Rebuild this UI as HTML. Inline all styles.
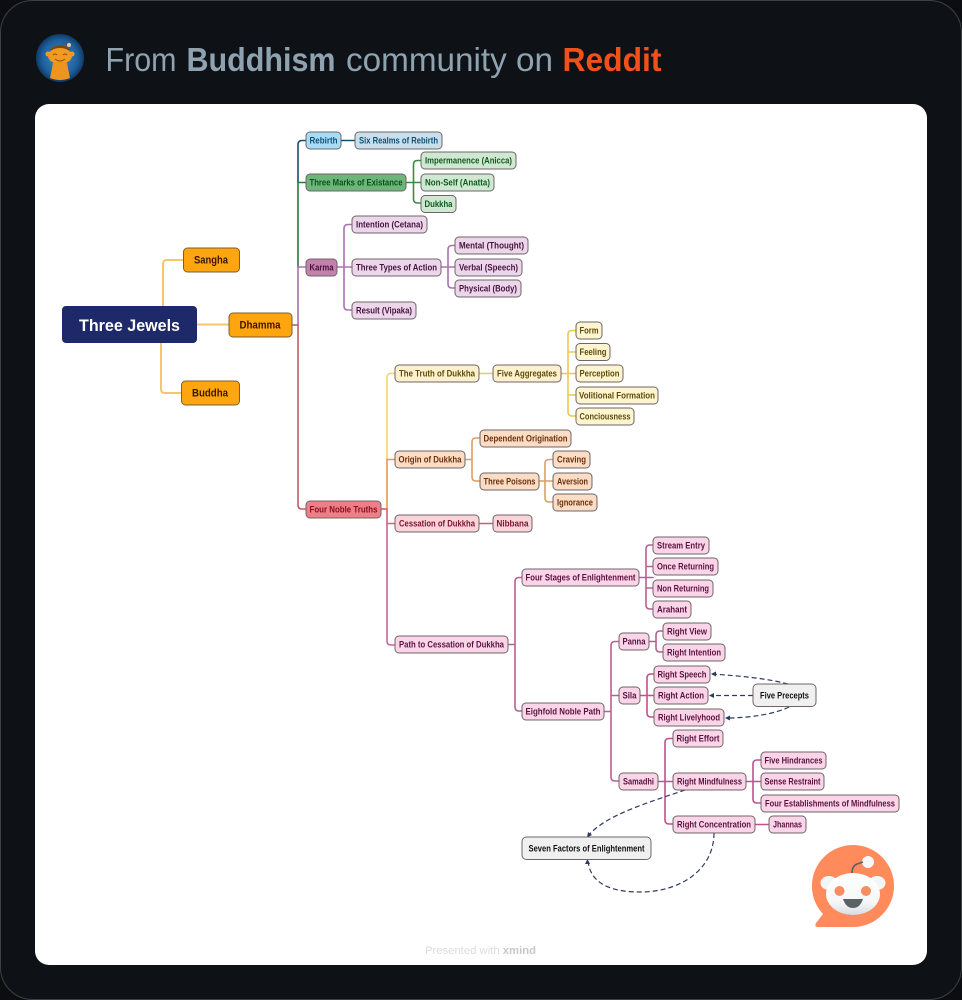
<!DOCTYPE html>
<html><head><meta charset="utf-8"><style>
html,body{margin:0;padding:0;background:#0b0d10;width:962px;height:1000px;overflow:hidden}
svg{display:block}
text{font-family:"Liberation Sans",sans-serif;font-weight:700;font-size:9px;text-anchor:middle}
.l{fill:none;stroke-width:1.6;stroke-linecap:round}
.d{fill:none;stroke:#2f3b5c;stroke-width:1.2;stroke-dasharray:5 3}
rect.n{stroke:#6f6468;stroke-width:1}
</style></head><body>
<svg width="962" height="1000" viewBox="0 0 962 1000" xmlns="http://www.w3.org/2000/svg">
<defs>
<radialGradient id="av" cx="50%" cy="50%" r="50%"><stop offset="0" stop-color="#3f8fcb"/><stop offset=".75" stop-color="#1d5f9c"/><stop offset="1" stop-color="#123a63"/></radialGradient>
<linearGradient id="hd" x1="0" y1="0" x2="0" y2="1"><stop offset="0" stop-color="#fff"/><stop offset=".7" stop-color="#f6f7f8"/><stop offset="1" stop-color="#d7dde2"/></linearGradient>
</defs>
<rect x="0.5" y="0.5" width="961" height="999" rx="32" fill="#0e1216" stroke="#3d4144"/>
<ellipse cx="60" cy="58" rx="24" ry="24" fill="url(#av)"/>
<path d="M49 50 Q60 40 71 50 Z" fill="#7a4a12"/>
<path d="M62 44 Q64 42 68 45" fill="none" stroke="#7a4a12" stroke-width="1.2"/><circle cx="69" cy="45" r="2" fill="#e9c9a0"/>
<ellipse cx="60" cy="56" rx="12" ry="8" fill="#f29a22"/><circle cx="48" cy="54" r="2.5" fill="#f29a22"/><circle cx="72" cy="54" r="2.5" fill="#f29a22"/>
<path d="M53 63 Q60 61 67 63 L70 78 Q60 82 50 78 Z" fill="#ee9420"/>
<path d="M53 55 q2 -2 4 0 M63 55 q2 -2 4 0 M55 59 q5 4 10 0" fill="none" stroke="#8a4f0c" stroke-width="1"/>
<text x="141" y="71" textLength="71" lengthAdjust="spacingAndGlyphs" style="font-size:33px;font-weight:400" fill="#8ea2b0">From</text>
<text x="261" y="71" textLength="149" lengthAdjust="spacingAndGlyphs" style="font-size:33px" fill="#8ea2b0">Buddhism</text>
<text x="449.500" y="71" textLength="207" lengthAdjust="spacingAndGlyphs" style="font-size:33px;font-weight:400" fill="#8ea2b0">community on</text>
<text x="612" y="71" textLength="99" lengthAdjust="spacingAndGlyphs" style="font-size:33px" fill="#f1501b">Reddit</text>
<rect x="35" y="104" width="892" height="861" rx="14" fill="#fff"/>

<!-- connectors -->
<g class="c">
<path class="l" style="stroke-width:2" d="M163 306V264q0-4 4-4H183M161 343V389q0 4 4 4H181M197 324.500H229" stroke="#f6c56c"/>
<path class="l" d="M292 325H298" stroke="#b5566a"/>
<path class="l" d="M306 140.500H302q-4 0-4 4V182" stroke="#15506e"/>
<path class="l" d="M298 182V267M298 182.500H306" stroke="#2c7a38"/>
<path class="l" d="M298 267V325M298 267H306" stroke="#ab70b0"/>
<path class="l" d="M298 325V505q0 4 4 4H306" stroke="#c65a66"/>
<path class="l" d="M341 140.500H355" stroke="#15506e"/>
<path class="l" d="M406 182.500H421M421 160.500H417.500q-4 0-4 4V199q0 4 4 4H421" stroke="#3b8a47"/>
<path class="l" d="M337 267H352M352 224.500H348q-4 0-4 4V306q0 4 4 4H352" stroke="#ab70b0"/>
<path class="l" d="M441 267H455M455 245.500H452q-4 0-4 4V284q0 4 4 4H455" stroke="#ab70b0"/>
<path class="l" d="M381 509H387" stroke="#c65a66"/>
<path class="l" d="M395 373.500H391q-4 0-4 4V459" stroke="#f7d36a"/>
<path class="l" d="M387 459V509M387 459.500H395" stroke="#e3994f"/>
<path class="l" d="M387 509V524M387 523.500H395" stroke="#d9607a"/>
<path class="l" d="M387 524V641q0 4 4 4H395" stroke="#c2689c"/>
<path class="l" d="M479 373.500H493" stroke="#f0cc55"/>
<path class="l" d="M561 373.500H576M576 330.500H572q-4 0-4 4V412q0 4 4 4H576M568 352H576M568 395H576" stroke="#efc84e"/>
<path class="l" d="M465 459.500H472M480 438H476q-4 0-4 4V477q0 4 4 4H480" stroke="#dd9e62"/>
<path class="l" d="M539 481H553M553 459.500H549q-4 0-4 4V498q0 4 4 4H553" stroke="#dd9e62"/>
<path class="l" d="M479 523.500H493" stroke="#cf5a78"/>
<path class="l" d="M508 644.500H515M522 577.500H519q-4 0-4 4V707q0 4 4 4H522" stroke="#b5608f"/>
<path class="l" d="M639 577.500H653M653 545H650q-4 0-4 4V605q0 4 4 4H653M646 566.500H653M646 588H653" stroke="#b5608f"/>
<path class="l" d="M604 711.500H611M619 641.500H615q-4 0-4 4V777q0 4 4 4H619M611 695.500H619" stroke="#b5608f"/>
<path class="l" d="M649 641.500H656M663 631H660q-4 0-4 4V648q0 4 4 4H663" stroke="#b5608f"/>
<path class="l" d="M640 695.500H654M654 674H651q-4 0-4 4V713q0 4 4 4H654" stroke="#c2508f"/>
<path class="l" d="M658 781.500H673M673 738.500H669q-4 0-4 4V820q0 4 4 4H673" stroke="#c2508f"/>
<path class="l" d="M746 781.500H761M761 760H757q-4 0-4 4V799q0 4 4 4H761" stroke="#c2508f"/>
<path class="l" d="M755 824.500H769" stroke="#c2508f"/>
</g>
<path class="d" d="M788 684C765 678 740 676 712 674"/><path d="M711 674l5-2.500v5z" fill="#2f3b5c"/>
<path class="d" d="M753 695.500H710"/><path d="M709 695.500l5-2.500v5z" fill="#2f3b5c"/>
<path class="d" d="M789 707C775 714 750 718 726 718"/><path d="M725 718l5-2.500v5z" fill="#2f3b5c"/>
<path class="d" d="M685 790C650 802 605 815 588 836"/><path d="M587 837.500l1-5.500 4 3z" fill="#2f3b5c"/>
<path class="d" d="M714 833C714 870 680 892 640 892C605 892 590 880 588 861"/><path d="M587.500 859l-2.500 5 5 0z" fill="#2f3b5c"/>

<!-- main -->
<rect class="n" x="183.500" y="248" width="56" height="24" rx="4" fill="#ffa50f" style="stroke:#7a6030"/>
<rect class="n" x="229" y="313" width="63" height="24" rx="4" fill="#ffa50f" style="stroke:#7a6030"/>
<rect class="n" x="181.500" y="381" width="58" height="24" rx="4" fill="#ffa50f" style="stroke:#7a6030"/>
<rect x="62" y="306" width="135" height="37" rx="4" fill="#1d2968"/>
<text x="129.500" y="331" textLength="101" lengthAdjust="spacingAndGlyphs" style="font-size:16.500px" fill="#fff">Three Jewels</text>
<g fill="#3a1400">
<text x="211" y="263.500" textLength="34" lengthAdjust="spacingAndGlyphs" style="font-size:11px">Sangha</text>
<text x="260" y="328.500" textLength="41" lengthAdjust="spacingAndGlyphs" style="font-size:11px">Dhamma</text>
<text x="210" y="396.500" textLength="36" lengthAdjust="spacingAndGlyphs" style="font-size:11px">Buddha</text>
</g>

<!-- blue -->
<rect class="n" x="306" y="132" width="35" height="17" rx="4" fill="#a6dcf8"/>
<rect class="n" x="355" y="132" width="87" height="17" rx="4" fill="#c9dfec"/>
<g fill="#124e74">
<text x="323.500" y="143.500" textLength="28" lengthAdjust="spacingAndGlyphs">Rebirth</text>
<text x="398.500" y="143.500" textLength="79" lengthAdjust="spacingAndGlyphs">Six Realms of Rebirth</text>
</g>
<!-- green -->
<rect class="n" x="306" y="174" width="100" height="17" rx="4" fill="#6db679"/>
<rect class="n" x="421" y="152" width="95" height="17" rx="4" fill="#cfe8d1"/>
<rect class="n" x="421" y="174" width="73" height="17" rx="4" fill="#cfe8d1"/>
<rect class="n" x="421" y="195.500" width="35" height="17" rx="4" fill="#cfe8d1"/>
<g fill="#115a20">
<text x="356" y="185.500" textLength="93" lengthAdjust="spacingAndGlyphs" fill="#0c4f1a">Three Marks of Existance</text>
<text x="468.500" y="163.500" textLength="87" lengthAdjust="spacingAndGlyphs">Impermanence (Anicca)</text>
<text x="457.500" y="185.500" textLength="65" lengthAdjust="spacingAndGlyphs">Non-Self (Anatta)</text>
<text x="438.500" y="207" textLength="28" lengthAdjust="spacingAndGlyphs">Dukkha</text>
</g>
<!-- purple -->
<rect class="n" x="306" y="259" width="31" height="17" rx="4" fill="#c481ab"/>
<rect class="n" x="352" y="216" width="75" height="17" rx="4" fill="#ecd7ea"/>
<rect class="n" x="352" y="259" width="89" height="17" rx="4" fill="#ecd7ea"/>
<rect class="n" x="352" y="302" width="64" height="17" rx="4" fill="#ecd7ea"/>
<rect class="n" x="455" y="237" width="73" height="17" rx="4" fill="#ecd7ea"/>
<rect class="n" x="455" y="259" width="67" height="17" rx="4" fill="#ecd7ea"/>
<rect class="n" x="455" y="280" width="66" height="17" rx="4" fill="#ecd7ea"/>
<g fill="#45133f">
<text x="321.500" y="270.500" textLength="24" lengthAdjust="spacingAndGlyphs">Karma</text>
<text x="389.500" y="227.500" textLength="67" lengthAdjust="spacingAndGlyphs">Intention (Cetana)</text>
<text x="396.500" y="270.500" textLength="81" lengthAdjust="spacingAndGlyphs">Three Types of Action</text>
<text x="384" y="313.500" textLength="56" lengthAdjust="spacingAndGlyphs">Result (Vipaka)</text>
<text x="491.500" y="248.500" textLength="65" lengthAdjust="spacingAndGlyphs">Mental (Thought)</text>
<text x="488.500" y="270.500" textLength="59" lengthAdjust="spacingAndGlyphs">Verbal (Speech)</text>
<text x="488" y="291.500" textLength="58" lengthAdjust="spacingAndGlyphs">Physical (Body)</text>
</g>
<!-- red -->
<rect class="n" x="306" y="501" width="75" height="17" rx="4" fill="#ef7f86"/>
<text x="343.500" y="512.500" textLength="68" lengthAdjust="spacingAndGlyphs" fill="#8a0f20">Four Noble Truths</text>
<!-- yellow -->
<rect class="n" x="395" y="365" width="84" height="17" rx="4" fill="#fdf0cd"/>
<rect class="n" x="493" y="365" width="68" height="17" rx="4" fill="#fdf0cd"/>
<rect class="n" x="576" y="322" width="26" height="17" rx="4" fill="#fdf5d0"/>
<rect class="n" x="576" y="343.500" width="34" height="17" rx="4" fill="#fdf5d0"/>
<rect class="n" x="576" y="365" width="47" height="17" rx="4" fill="#fdf5d0"/>
<rect class="n" x="576" y="387" width="82" height="17" rx="4" fill="#fdf5d0"/>
<rect class="n" x="576" y="408" width="58" height="17" rx="4" fill="#fdf5d0"/>
<g fill="#5f4b0c">
<text x="437" y="376.500" textLength="76" lengthAdjust="spacingAndGlyphs">The Truth of Dukkha</text>
<text x="527" y="376.500" textLength="60" lengthAdjust="spacingAndGlyphs">Five Aggregates</text>
<text x="589" y="333.500" textLength="19" lengthAdjust="spacingAndGlyphs">Form</text>
<text x="593" y="355" textLength="27" lengthAdjust="spacingAndGlyphs">Feeling</text>
<text x="599.500" y="376.500" textLength="40" lengthAdjust="spacingAndGlyphs">Perception</text>
<text x="617" y="398.500" textLength="76" lengthAdjust="spacingAndGlyphs">Volitional Formation</text>
<text x="605" y="419.500" textLength="51" lengthAdjust="spacingAndGlyphs">Conciousness</text>
</g>
<!-- orange -->
<rect class="n" x="395" y="451" width="70" height="17" rx="4" fill="#fbdcc4"/>
<rect class="n" x="480" y="430" width="91" height="17" rx="4" fill="#fbdcc4"/>
<rect class="n" x="480" y="473" width="59" height="17" rx="4" fill="#fbdcc4"/>
<rect class="n" x="553" y="451" width="37" height="17" rx="4" fill="#fbdcc4"/>
<rect class="n" x="553" y="473" width="39" height="17" rx="4" fill="#fbdcc4"/>
<rect class="n" x="553" y="494" width="44" height="17" rx="4" fill="#fbdcc4"/>
<g fill="#6a300c">
<text x="430" y="462.500" textLength="63" lengthAdjust="spacingAndGlyphs">Origin of Dukkha</text>
<text x="525.500" y="441.500" textLength="84" lengthAdjust="spacingAndGlyphs">Dependent Origination</text>
<text x="509.500" y="484.500" textLength="52" lengthAdjust="spacingAndGlyphs">Three Poisons</text>
<text x="571.500" y="462.500" textLength="29" lengthAdjust="spacingAndGlyphs">Craving</text>
<text x="572.500" y="484.500" textLength="31" lengthAdjust="spacingAndGlyphs">Aversion</text>
<text x="575" y="505.500" textLength="36" lengthAdjust="spacingAndGlyphs">Ignorance</text>
</g>
<!-- crimson -->
<rect class="n" x="395" y="515" width="84" height="17" rx="4" fill="#fbd4da"/>
<rect class="n" x="493" y="515" width="39" height="17" rx="4" fill="#fbd4da"/>
<g fill="#7a1230">
<text x="437" y="526.500" textLength="76" lengthAdjust="spacingAndGlyphs">Cessation of Dukkha</text>
<text x="512.500" y="526.500" textLength="32" lengthAdjust="spacingAndGlyphs">Nibbana</text>
</g>
<!-- pink -->
<g fill="#f9d5e7">
<rect class="n" x="395" y="636" width="113" height="17" rx="4"/>
<rect class="n" x="522" y="569" width="117" height="17" rx="4"/>
<rect class="n" x="522" y="703" width="82" height="17" rx="4"/>
<rect class="n" x="653" y="537" width="56" height="17" rx="4"/>
<rect class="n" x="653" y="558" width="65" height="17" rx="4"/>
<rect class="n" x="653" y="580" width="60" height="17" rx="4"/>
<rect class="n" x="653" y="601" width="38" height="17" rx="4"/>
<rect class="n" x="619" y="633" width="30" height="17" rx="4"/>
<rect class="n" x="663" y="623" width="48" height="17" rx="4"/>
<rect class="n" x="663" y="644" width="62" height="17" rx="4"/>
<rect class="n" x="619" y="687" width="21" height="17" rx="4"/>
<rect class="n" x="654" y="666" width="56" height="17" rx="4"/>
<rect class="n" x="654" y="687" width="54" height="17" rx="4"/>
<rect class="n" x="654" y="709" width="70" height="17" rx="4"/>
<rect class="n" x="619" y="773" width="39" height="17" rx="4"/>
<rect class="n" x="673" y="730" width="50" height="17" rx="4"/>
<rect class="n" x="673" y="773" width="73" height="17" rx="4"/>
<rect class="n" x="673" y="816" width="82" height="17" rx="4"/>
<rect class="n" x="761" y="752" width="65" height="17" rx="4"/>
<rect class="n" x="761" y="773" width="63" height="17" rx="4"/>
<rect class="n" x="761" y="795" width="138" height="17" rx="4"/>
<rect class="n" x="769" y="816" width="37" height="17" rx="4"/>
</g>
<g fill="#5c1040">
<text x="451.500" y="647.500" textLength="105" lengthAdjust="spacingAndGlyphs">Path to Cessation of Dukkha</text>
<text x="580.500" y="580.500" textLength="110" lengthAdjust="spacingAndGlyphs">Four Stages of Enlightenment</text>
<text x="563" y="714.500" textLength="75" lengthAdjust="spacingAndGlyphs">Eighfold Noble Path</text>
<text x="681" y="548.500" textLength="48" lengthAdjust="spacingAndGlyphs">Stream Entry</text>
<text x="685.500" y="569.500" textLength="57" lengthAdjust="spacingAndGlyphs">Once Returning</text>
<text x="683" y="591.500" textLength="52" lengthAdjust="spacingAndGlyphs">Non Returning</text>
<text x="672" y="612.500" textLength="30" lengthAdjust="spacingAndGlyphs">Arahant</text>
<text x="634" y="644.500" textLength="23" lengthAdjust="spacingAndGlyphs">Panna</text>
<text x="687" y="634.500" textLength="40" lengthAdjust="spacingAndGlyphs">Right View</text>
<text x="694" y="655.500" textLength="54" lengthAdjust="spacingAndGlyphs">Right Intention</text>
<text x="629.500" y="698.500" textLength="14" lengthAdjust="spacingAndGlyphs">Sila</text>
<text x="682" y="677.500" textLength="49" lengthAdjust="spacingAndGlyphs">Right Speech</text>
<text x="681" y="698.500" textLength="46" lengthAdjust="spacingAndGlyphs">Right Action</text>
<text x="689" y="720.500" textLength="62" lengthAdjust="spacingAndGlyphs">Right Livelyhood</text>
<text x="638.500" y="784.500" textLength="31" lengthAdjust="spacingAndGlyphs">Samadhi</text>
<text x="698" y="741.500" textLength="43" lengthAdjust="spacingAndGlyphs">Right Effort</text>
<text x="709.500" y="784.500" textLength="65" lengthAdjust="spacingAndGlyphs">Right Mindfulness</text>
<text x="714" y="827.500" textLength="74" lengthAdjust="spacingAndGlyphs">Right Concentration</text>
<text x="793.500" y="763.500" textLength="58" lengthAdjust="spacingAndGlyphs">Five Hindrances</text>
<text x="792.500" y="784.500" textLength="56" lengthAdjust="spacingAndGlyphs">Sense Restraint</text>
<text x="830" y="806.500" textLength="130" lengthAdjust="spacingAndGlyphs">Four Establishments of Mindfulness</text>
<text x="787.500" y="827.500" textLength="29" lengthAdjust="spacingAndGlyphs">Jhannas</text>
</g>
<!-- grey -->
<rect class="n" x="753" y="684" width="63" height="22.500" rx="4.500" fill="#f0f0f0"/>
<rect class="n" x="522" y="837" width="129" height="22.500" rx="4.500" fill="#f0f0f0"/>
<g fill="#111">
<text x="784.500" y="698.500" textLength="49" lengthAdjust="spacingAndGlyphs">Five Precepts</text>
<text x="586.500" y="851.500" textLength="116" lengthAdjust="spacingAndGlyphs">Seven Factors of Enlightenment</text>
</g>

<!-- logo -->
<path d="M853 845a41 41 0 0 1 0 82H818q-4 0-2-4l7-9A41 41 0 0 1 853 845Z" fill="#ff8a5c"/>
<circle cx="868" cy="862" r="6" fill="#f7f7f7"/>
<path d="M852 873q0-7 5-9l6 -2" fill="none" stroke="#5a6068" stroke-width="1.500"/>
<ellipse cx="829" cy="883" rx="8.500" ry="7" fill="#f3f5f7"/><ellipse cx="877" cy="883" rx="8.500" ry="7" fill="#f3f5f7"/>
<ellipse cx="853" cy="894" rx="27" ry="21" fill="url(#hd)"/>
<circle cx="839.500" cy="891" r="5" fill="#f98d62"/><circle cx="866" cy="891" r="5" fill="#f98d62"/>
<path d="M843 899H863Q860 908 853 908Q846 908 843 899Z" fill="#5a6266"/>

<text x="480.500" y="954" textLength="111" lengthAdjust="spacingAndGlyphs" style="font-size:11px;font-weight:400" fill="#dcdcdc">Presented with <tspan font-weight="700" fill="#c8c8c8">xmind</tspan></text>
</svg>
</body></html>
